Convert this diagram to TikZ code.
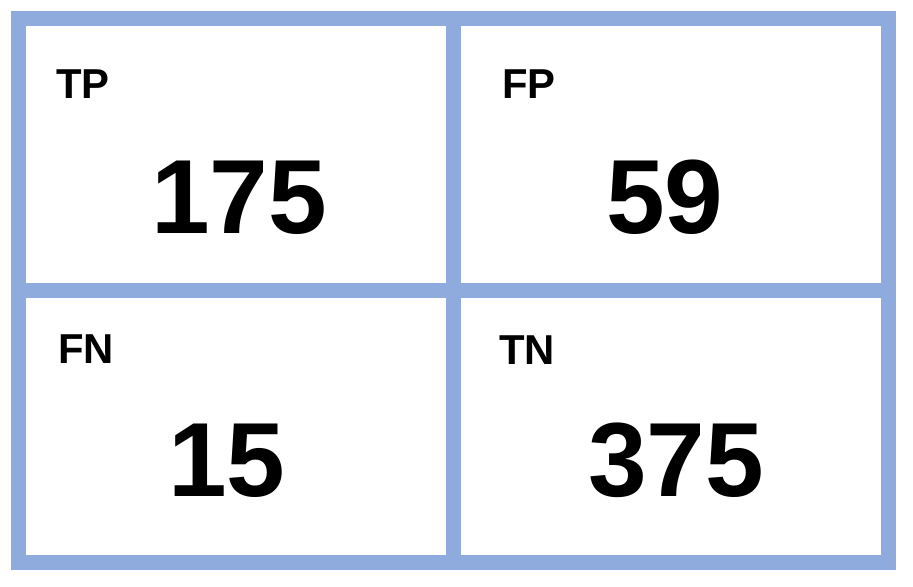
\documentclass[tikz,border=0pt]{standalone}
\usepackage{fontspec}
\setmainfont{Liberation Sans}
\usetikzlibrary{positioning}
\definecolor{frame1}{HTML}{8FAADC}

\begin{document}
\begin{tikzpicture}[x=0.02cm, y=-0.02cm,
    cell/.style={draw=frame1, line width=8.5pt, minimum width=8.7cm, minimum height=5.44cm, inner sep=0pt},
    tag/.style={font=\fontsize{23.8}{24}\selectfont\bfseries, anchor=base west, inner sep=0pt},
    count/.style={font=\fontsize{60}{60}\selectfont\bfseries, anchor=base, inner sep=0pt}
]
    \useasboundingbox (0,0) rectangle (913,586);

    % the four cells of the matrix
    \foreach \n/\cx/\cy in {tp/236/154.75, fp/671/154.75, fn/236/426.5, tn/671/426.5}
    {
        \node[cell, name=\n] at (\cx,\cy) {};
    };

    % corner tags
    \node[tag, name=tpTag] at (56,98) {TP};
    \node[tag, name=fpTag] at (502,98) {FP};
    \node[tag, name=fnTag] at (58,363) {FN};
    \node[tag, name=tnTag] at (499,364) {TN};

    % counts
    \node[count, name=tpVal] at (239,233) {175};
    \node[count, name=fpVal] at (665,233) {59};
    \node[count, name=fnVal] at (227,496) {15};
    \node[count, name=tnVal] at (676,496) {375};
\end{tikzpicture}
\end{document}
